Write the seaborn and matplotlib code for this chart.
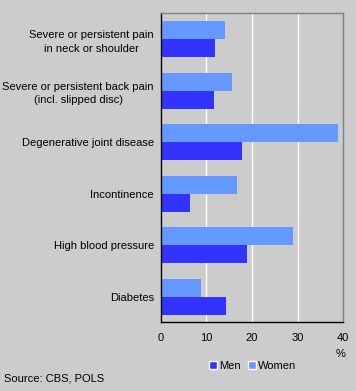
import matplotlib
matplotlib.use('Agg')
import matplotlib.pyplot as plt
from matplotlib.patches import Patch
import pandas as pd
import seaborn as sns

categories = ['Severe or persistent pain\nin neck or shoulder',
              'Severe or persistent back pain\n(incl. slipped disc)',
              'Degenerative joint disease',
              'Incontinence',
              'High blood pressure',
              'Diabetes']
men = [11.9, 11.7, 17.8, 6.4, 18.9, 14.3]
women = [14.1, 15.6, 38.8, 16.7, 29.0, 8.8]
xticks = [0, 10, 20, 30, 40]

bg = '#cccccc'
c_men = '#3333ff'
c_women = '#6699ff'

df = pd.DataFrame({
    'cat': categories * 2,
    'sex': ['Women'] * len(categories) + ['Men'] * len(categories),
    'val': women + men,
})

sns.set_style('white')
plt.rcParams['font.family'] = ['Liberation Sans', 'DejaVu Sans']
plt.rcParams['font.size'] = 8
plt.rcParams['text.color'] = 'black'
plt.rcParams['xtick.color'] = 'black'
plt.rcParams['ytick.color'] = 'black'

fig = plt.figure(figsize=(3.56, 3.91), dpi=100, facecolor=bg)
ax = fig.add_axes([0.4514, 0.1757, 0.5129, 0.7903])
ax.set_facecolor(bg)

sns.barplot(data=df, y='cat', x='val', hue='sex', hue_order=['Women', 'Men'],
            palette={'Women': c_women, 'Men': c_men}, width=0.7,
            saturation=1, orient='h', ax=ax, legend=False, linewidth=0)

ax.set_xlim(0, 40)
ax.set_xticks(xticks)
for v in xticks[1:-1]:
    ax.axvline(v, color='white', lw=1, zorder=0.5)
ax.set_axisbelow(True)

for s in ['top', 'right']:
    ax.spines[s].set_color('#808080')
    ax.spines[s].set_linewidth(1)
for s in ['left', 'bottom']:
    ax.spines[s].set_color('black')
    ax.spines[s].set_linewidth(1)

ax.tick_params(axis='x', direction='out', length=4, width=1, color='black',
               labelsize=8, pad=4)
ax.tick_params(axis='y', length=0, labelsize=8, pad=5)
for lab in ax.get_yticklabels():
    lab.set_multialignment('center')
    lab.set_linespacing(1.45)
ax.set_xlabel('')
ax.set_ylabel('')

fig.text(0.958, 0.094, '%', ha='center', va='center', fontsize=8)

handles = [Patch(facecolor=c_men, label='Men'), Patch(facecolor=c_women, label='Women')]
fig.legend(handles=handles, loc='center', bbox_to_anchor=(0.71, 0.064), ncol=2,
           frameon=False, fontsize=8, handlelength=0.7, handleheight=0.7,
           handletextpad=0.2, columnspacing=0.6, borderpad=0)

fig.text(0.011, 0.033, 'Source: CBS, POLS', ha='left', va='center', fontsize=8)

fig.savefig('out.png', dpi=100, facecolor=bg)
